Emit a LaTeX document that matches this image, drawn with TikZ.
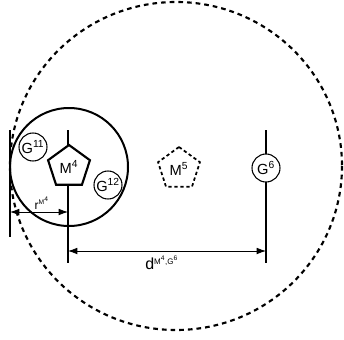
\documentclass[tikz,border=0pt]{standalone}
\usepackage{fontspec}
\setmainfont{Liberation Sans}
\usetikzlibrary{shapes.geometric,arrows.meta}
\begin{document}
\begin{tikzpicture}[x=0.75pt,y=-0.75pt,
  thickline/.style={line width=1.5pt},
  smallcirc/.style={circle,draw,line width=0.8pt,minimum size=21pt,inner sep=0pt,font=\fontsize{11}{11}\selectfont},
  pent/.style={regular polygon,regular polygon sides=5,draw,line width=1.6pt,minimum size=33pt,inner sep=0pt,fill=white,font=\fontsize{11}{11}\selectfont},
  dimarrow/.style={line width=0.6pt,{Latex[length=7pt,width=5pt]}-{Latex[length=7pt,width=5pt]}}]
\useasboundingbox (0,0) rectangle (344,340);
% big dashed circle
\draw[line width=1.6pt,dash pattern=on 3.5pt off 3pt] (176,166) ellipse [x radius=166, y radius=164];
% big solid circle
\draw[line width=1.5pt] (69,167) circle [radius=59];
% vertical lines
\coordinate (L1) at (10,130);
\coordinate (L2) at (10,237);
\draw[thickline] (L1) -- (L2);
\coordinate (M1) at (68,130);
\coordinate (M2) at (68,263);
\draw[thickline] (M1) -- (M2);
\coordinate (G1) at (266,130);
\coordinate (G2) at (266,263);
\draw[thickline] (G1) -- (G2);
% nodes
\node[pent] (m4) at (69,167) {M\textsuperscript{4}};
\node[pent,dash pattern=on 2.5pt off 2pt,line width=1.3pt] (m5) at (179,169) {M\textsuperscript{5}};
\node[smallcirc,fill=white] (g6) at (266,168) {G\textsuperscript{6}};
\node[smallcirc] (g11) at (33,147) {G\textsuperscript{11}};
\node[smallcirc] (g12) at (108,185) {G\textsuperscript{12}};
% dimension arrows
\coordinate (ra) at (10,212);
\coordinate (rb) at (68,212);
\draw[dimarrow] (ra) -- (rb);
\node[font=\fontsize{9}{9}\selectfont,inner sep=0pt] (rlab) at (42,203) {r\textsuperscript{\fontsize{5}{5}\selectfont M\textsuperscript{4}}};
\coordinate (da) at (68,251);
\coordinate (db) at (266,251);
\draw[dimarrow] (da) -- (db);
\node[font=\fontsize{12}{12}\selectfont,inner sep=0pt] (dlab) at (162,263) {d\textsuperscript{\fontsize{6}{6}\selectfont M\textsuperscript{4},G\textsuperscript{6}}};
\end{tikzpicture}
\end{document}
